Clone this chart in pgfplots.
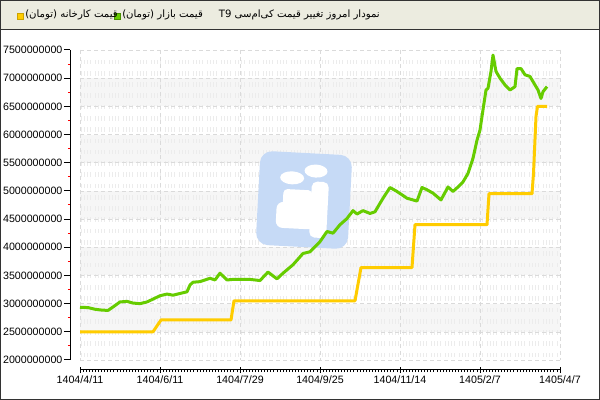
\documentclass[border=0pt]{standalone}
\usepackage{fontspec}
\setmainfont{Liberation Sans}
\newfontfamily\farsi[Script=Arabic]{DejaVu Sans}
\usepackage{pgfplots}
\pgfplotsset{compat=1.18}
\TeXXeTstate=1

\definecolor{barbg}{RGB}{236,236,224}
\definecolor{frame}{RGB}{51,51,51}
\definecolor{mkt}{RGB}{102,204,0}
\definecolor{fac}{RGB}{255,204,0}
\definecolor{band}{RGB}{246,246,246}
\definecolor{gridc}{RGB}{218,218,218}
\definecolor{texc}{RGB}{236,236,236}
\definecolor{logo}{RGB}{198,218,246}

\tikzset{px/.style={x=0.75pt, y=-0.75pt, yshift=300pt}}

\begin{document}
\begin{tikzpicture}
\useasboundingbox (0,0) rectangle (450pt,300pt);
\begin{scope}[px]
\fill[white] (0,0) rectangle (600,400);
% alternating bands
\foreach \a/\b in {2.5/3,3.5/4,4.5/5,5.5/6,6.5/7}
  \fill[band] (80,{360-(\a-2)*56.3636}) rectangle (560,{360-(\b-2)*56.3636});
% faint texture rows
\foreach \r in {0,...,26}
  \draw[texc, line width=3.5pt, dash pattern=on 0.75pt off 1.5pt on 0.75pt off 1.5pt on 0.75pt off 1.5pt on 0.75pt off 3pt]
    (81,{62+11.27*\r}) -- (560,{62+11.27*\r});
% dashed grid
\foreach \v in {2,2.5,...,7.5}
  \draw[gridc, dash pattern=on 3pt off 2.25pt] (80,{360-(\v-2)*56.3636}) -- (560,{360-(\v-2)*56.3636});
\foreach \x in {80,160,...,560}
  \draw[gridc, dash pattern=on 3pt off 2.25pt] (\x,50) -- (\x,360);
% watermark logo
\begin{scope}[rotate around={-3:(304,200)}]
  \fill[logo, rounded corners=9pt] (258,153) rectangle (350,247);
  \fill[white] (291,178.5) ellipse [x radius=12, y radius=6.5];
  \fill[white] (314.5,170.5) ellipse [x radius=11.5, y radius=6.5];
  \fill[white, rounded corners=4pt] (311,181) rectangle (328,237);
  \fill[white, rounded corners=5pt] (277,203) rectangle (316,229);
  \fill[white, rounded corners=3pt] (283,190) rectangle (312,208);
\end{scope}
\end{scope}

\begin{axis}[
  at={(52.5pt,22.5pt)}, anchor=south west,
  scale only axis, width=367.5pt, height=240pt,
  xmin=-10, xmax=480, ymin=1822580000, ymax=7500000000,
  axis line style={draw=none},
  xtick={0,80,160,240,320,400,480},
  xticklabels={1404/4/11,1404/6/11,1404/7/29,1404/9/25,1404/11/14,1405/2/7,1405/4/7},
  ytick={2000000000,2500000000,3000000000,3500000000,4000000000,4500000000,5000000000,5500000000,6000000000,6500000000,7000000000,7500000000},
  yticklabels={2000000000,2500000000,3000000000,3500000000,4000000000,4500000000,5000000000,5500000000,6000000000,6500000000,7000000000,7500000000},
  scaled y ticks=false,
  xtick pos=left, ytick pos=left,
  xtick align=center, ytick align=outside,
  major tick length=4.5pt, minor tick length=1.6pt,
  minor x tick num=25, minor y tick num=1,
  tick style={black, line width=0.75pt},
  minor y tick style={red, line width=0.75pt},
  minor x tick style={black, line width=0.6pt, yshift=-0.8pt},
  ticklabel style={font=\fontsize{8}{9}\selectfont, text=black},
  yticklabel style={inner xsep=1pt},
  xticklabel style={inner ysep=2pt},
  clip=false,
]
\addplot[mkt, line width=2.25pt, line join=round] coordinates {
(0,2.935e9) (8,2.93e9) (15,2.90e9) (22,2.885e9) (28,2.88e9) (33,2.94e9)
(40,3.03e9) (47,3.04e9) (53,3.01e9) (60,3.00e9) (67,3.03e9) (73,3.08e9)
(80,3.14e9) (87,3.17e9) (93,3.15e9) (100,3.18e9) (107,3.21e9) (110,3.33e9)
(113,3.38e9) (120,3.39e9) (130,3.45e9) (135,3.42e9) (140,3.54e9) (147,3.42e9)
(153,3.43e9) (170,3.43e9) (180,3.41e9) (188,3.56e9) (197,3.44e9) (203,3.54e9)
(213,3.69e9) (223,3.89e9) (230,3.92e9) (240,4.10e9) (247,4.28e9) (253,4.25e9)
(260,4.40e9) (267,4.51e9) (273,4.65e9) (277,4.59e9) (283,4.65e9) (290,4.60e9)
(295,4.63e9) (303,4.87e9) (310,5.06e9) (317,4.99e9) (327,4.87e9) (337,4.82e9)
(342,5.06e9) (347,5.02e9) (353,4.96e9) (361,4.84e9) (368,5.07e9) (373,4.99e9)
(378,5.07e9) (383,5.16e9) (388,5.31e9) (393,5.58e9) (397,5.90e9) (400,6.08e9)
(403,6.44e9) (406,6.79e9) (408,6.82e9) (411,7.12e9) (413,7.41e9) (416,7.12e9)
(420,7.00e9) (425,6.88e9) (430,6.79e9) (435,6.85e9) (437,7.17e9) (441,7.17e9)
(445,7.06e9) (450,7.03e9) (455,6.88e9) (458,6.79e9) (461,6.64e9) (463,6.76e9)
(467,6.85e9)
};
\addplot[fac, line width=2.25pt, line join=round] coordinates {
(0,2.5e9) (73,2.5e9) (81,2.71e9) (151,2.71e9) (154,3.05e9) (275,3.05e9)
(281,3.64e9) (332,3.64e9) (335,4.40e9) (407,4.40e9) (409,4.95e9) (452,4.95e9)
(453.5,5.31e9) (456,6.32e9) (457.5,6.5e9) (467,6.5e9)
};
\end{axis}

\begin{scope}[px]
% axis lines
\draw[black, line width=0.75pt] (80,370) -- (560,370);
\draw[black, line width=0.75pt] (70,50) -- (70,360);
% title bar
\fill[barbg] (0,0) rectangle (600,30);
\draw[frame, line width=0.75pt] (0,30) -- (600,30);
\node[anchor=east, inner sep=0pt, font=\farsi\fontsize{7.6}{9}\selectfont] at (380,15)
  {\beginR نمودار امروز تغییر قیمت کی‌ام‌سی \beginL T9\endL\endR};
\fill[mkt, draw=mkt!70!black, line width=0.4pt] (114,13) rectangle (120,19);
\node[anchor=west, inner sep=0pt, font=\farsi\fontsize{7.6}{9}\selectfont] at (122,15)
  {\beginR قیمت بازار (تومان)\endR};
\fill[fac, draw=fac!80!black, line width=0.4pt] (17,13) rectangle (23,19);
\node[anchor=west, inner sep=0pt, font=\farsi\fontsize{7.6}{9}\selectfont] at (25,15)
  {\beginR قیمت کارخانه (تومان)\endR};
% outer frame
\draw[frame, line width=1pt] (0.67,0.67) rectangle (599.33,399.33);
\end{scope}
\end{tikzpicture}
\end{document}
